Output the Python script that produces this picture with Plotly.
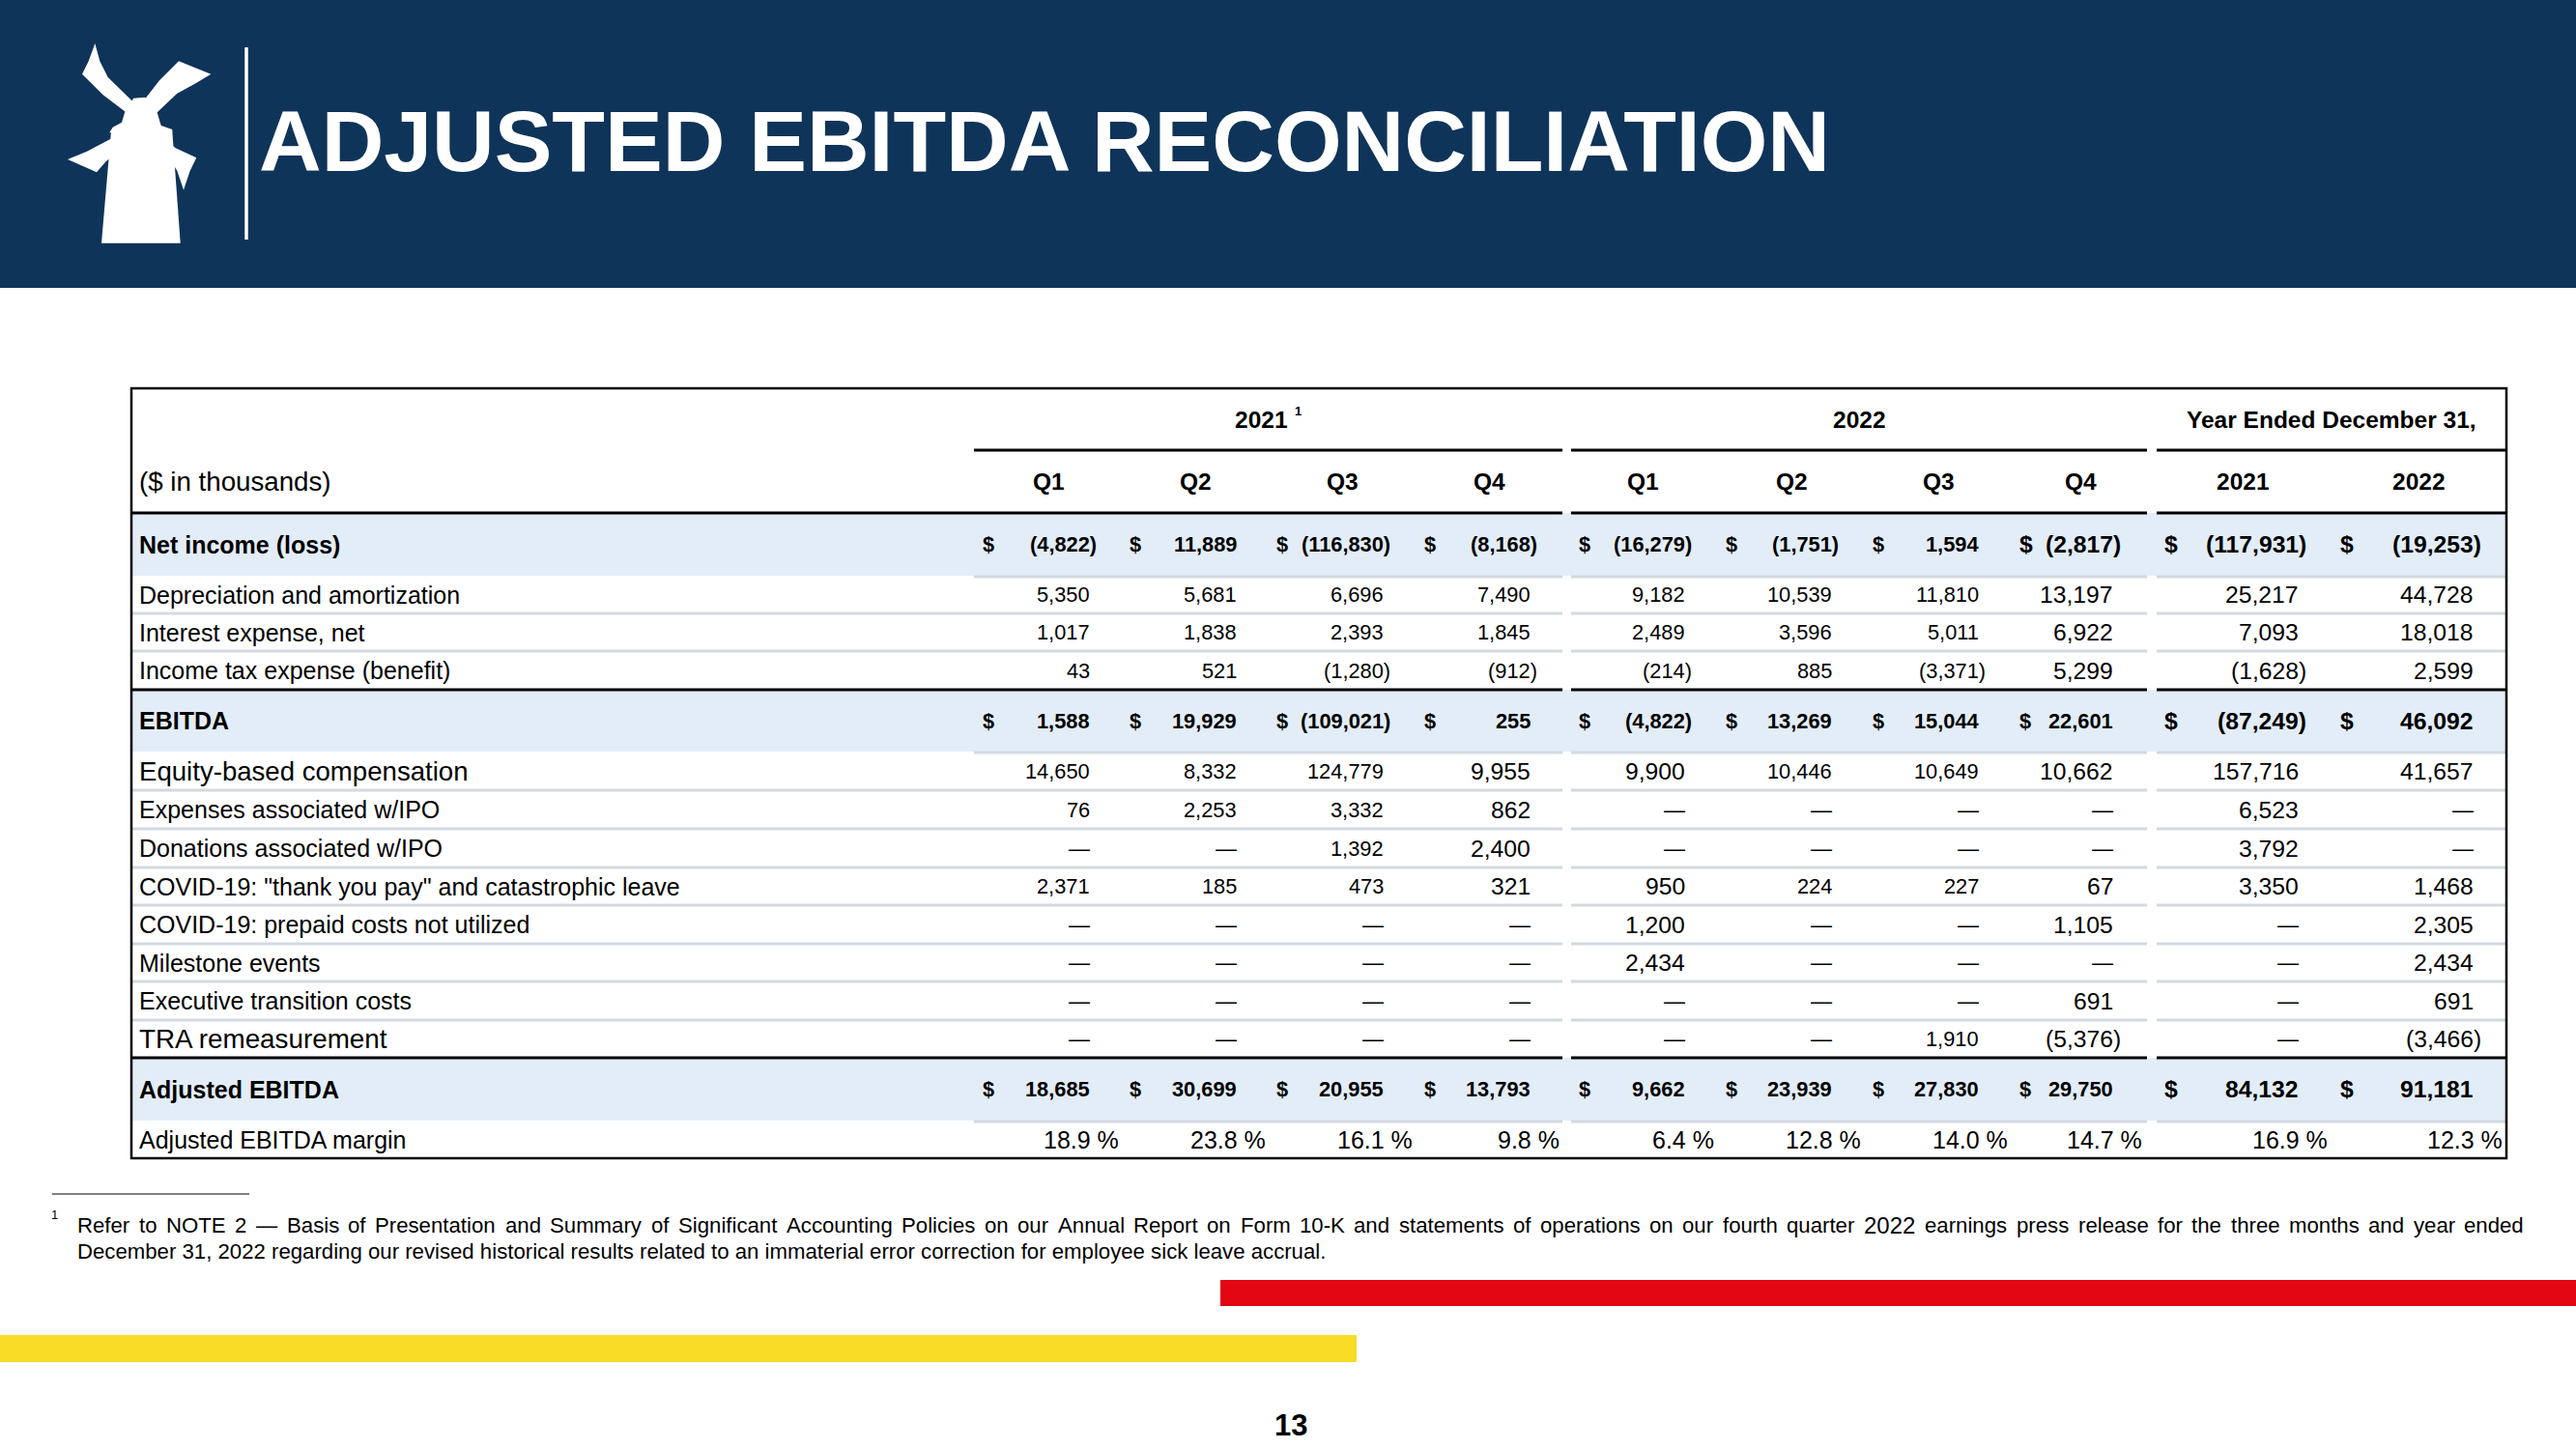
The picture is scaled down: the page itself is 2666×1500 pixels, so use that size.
import plotly.graph_objects as go

# ------------------------------------------------------------------ data
title_text = "ADJUSTED EBITDA RECONCILIATION"
unit_label = "($ in thousands)"
group_labels = ["2021", "2022", "Year Ended December 31,"]
column_labels = ["Q1", "Q2", "Q3", "Q4", "Q1", "Q2", "Q3", "Q4", "2021", "2022"]

row_labels = [
    "Net income (loss)",
    "Depreciation and amortization",
    "Interest expense, net",
    "Income tax expense (benefit)",
    "EBITDA",
    "Equity-based compensation",
    "Expenses associated w/IPO",
    "Donations associated w/IPO",
    'COVID-19: "thank you pay" and catastrophic leave',
    "COVID-19: prepaid costs not utilized",
    "Milestone events",
    "Executive transition costs",
    "TRA remeasurement",
    "Adjusted EBITDA",
    "Adjusted EBITDA margin",
]

net_income = [-4822, 11889, -116830, -8168, -16279, -1751, 1594, -2817, -117931, -19253]
depreciation = [5350, 5681, 6696, 7490, 9182, 10539, 11810, 13197, 25217, 44728]
interest_expense = [1017, 1838, 2393, 1845, 2489, 3596, 5011, 6922, 7093, 18018]
income_tax = [43, 521, -1280, -912, -214, 885, -3371, 5299, -1628, 2599]
ebitda = [1588, 19929, -109021, 255, -4822, 13269, 15044, 22601, -87249, 46092]
equity_comp = [14650, 8332, 124779, 9955, 9900, 10446, 10649, 10662, 157716, 41657]
ipo_expenses = [76, 2253, 3332, 862, None, None, None, None, 6523, None]
ipo_donations = [None, None, 1392, 2400, None, None, None, None, 3792, None]
covid_thank_you = [2371, 185, 473, 321, 950, 224, 227, 67, 3350, 1468]
covid_prepaid = [None, None, None, None, 1200, None, None, 1105, None, 2305]
milestone_events = [None, None, None, None, 2434, None, None, None, None, 2434]
executive_transition = [None, None, None, None, None, None, None, 691, None, 691]
tra_remeasurement = [None, None, None, None, None, None, 1910, -5376, None, -3466]
adjusted_ebitda = [18685, 30699, 20955, 13793, 9662, 23939, 27830, 29750, 84132, 91181]
adjusted_margin = [18.9, 23.8, 16.1, 9.8, 6.4, 12.8, 14.0, 14.7, 16.9, 12.3]

footnote_line1 = ("Refer to NOTE 2 \u2014 Basis of Presentation and Summary of Significant Accounting "
                  "Policies on our Annual Report on Form 10-K and statements of operations on our fourth "
                  "quarter 2022 earnings press release for the three months and year ended")
footnote_line2 = ("December 31, 2022 regarding our revised historical results related to an immaterial "
                  "error correction for employee sick leave accrual.")
page_number = "13"

rows = [net_income, depreciation, interest_expense, income_tax, ebitda, equity_comp,
        ipo_expenses, ipo_donations, covid_thank_you, covid_prepaid, milestone_events,
        executive_transition, tra_remeasurement, adjusted_ebitda]

# ------------------------------------------------------------------ layout / style
W, H = 2666, 1500
NAVY = "#0f3459"
LIGHT = "#e3edf8"
SEP = "#d3d9df"
FONT = "Liberation Sans, Arial, sans-serif"

row_bounds = [531, 596, 635, 674, 714, 778, 818, 858, 898, 937, 977, 1016, 1056, 1095, 1160, 1199]
bold_rows = {0, 4, 13}
digit_right = [1128, 1280, 1432, 1584, 1744, 1896, 2048, 2187, 2379, 2560]
dollar_left = [1017, 1169, 1321, 1474, 1634, 1786, 1938, 2090, 2240, 2422]
head_center = [1085, 1237, 1389, 1541, 1700, 1854, 2006, 2153, 2321, 2503]
size_codes = [
    "SSSSSSSLLL", "SSSSSSSLLL", "SSSSSSSLLL", "SSSSSSSLLL", "SSSSSSSSLL",
    "SSSLLSSLLL", "SSSLLLLLLL", "SSSLLLLLLL", "SSSLLSSLLL", "LLLLLLLLLL",
    "LLLLLLLLLL", "LLLLLLLLLL", "LLLLLLSLLL", "SSSSSSSSLL",
]
SZ = {"S": 21.8, "L": 24.7}
label_size = {5: 27.6, 12: 27.8}
group_segments = [(1008, 1617), (1626, 2222), (2232, 2594)]
full_segments = [(136, 1617), (1626, 2222), (2232, 2594)]

AW = {' ': 278, '!': 278, '"': 355, '$': 556, '%': 889, '(': 333, ')': 333, ',': 278, '-': 333,
      '.': 278, '/': 278, ':': 278, '\u2014': 1000,
      'A': 667, 'B': 667, 'C': 722, 'D': 722, 'E': 667, 'F': 611, 'G': 778, 'H': 722, 'I': 278,
      'J': 500, 'K': 667, 'L': 556, 'M': 833, 'N': 722, 'O': 778, 'P': 667, 'Q': 778, 'R': 722,
      'S': 667, 'T': 611, 'U': 722, 'V': 667, 'W': 944, 'X': 667, 'Y': 667, 'Z': 611,
      'a': 556, 'b': 556, 'c': 500, 'd': 556, 'e': 556, 'f': 278, 'g': 556, 'h': 556, 'i': 222,
      'j': 222, 'k': 500, 'l': 222, 'm': 833, 'n': 556, 'o': 556, 'p': 556, 'q': 556, 'r': 333,
      's': 500, 't': 278, 'u': 556, 'v': 500, 'w': 722, 'x': 500, 'y': 500, 'z': 500}


def text_w(s, size):
    return sum(AW.get(c, 556) for c in s) / 1000.0 * size


shapes = []
annotations = []


def rect(x0, y0, x1, y1, color, line_color=None, lw=0, layer="below"):
    shapes.append(dict(type="rect", xref="x", yref="y", x0=x0, y0=y0, x1=x1, y1=y1,
                       fillcolor=color, line=dict(width=lw, color=line_color or color), layer=layer))


def hline(x0, x1, y, color, width):
    shapes.append(dict(type="line", xref="x", yref="y", x0=x0, x1=x1, y0=y, y1=y,
                       line=dict(color=color, width=width), layer="above"))


def text(x, y, s, size, color="black", bold=False, xanchor="left", yanchor="middle"):
    if bold:
        s = "<b>" + s + "</b>"
    annotations.append(dict(x=x, y=y, xref="x", yref="y", text=s, showarrow=False,
                            xanchor=xanchor, yanchor=yanchor, borderpad=0, borderwidth=0,
                            font=dict(family=FONT, size=size, color=color)))


# header band
rect(0, 0, W, 298, NAVY)
shapes.append(dict(type="line", xref="x", yref="y", x0=255, x1=255, y0=49, y1=248,
                   line=dict(color="white", width=3.5), layer="above"))

# windmill logo (zoom-derived outline, scaled to page)
def lp(pts):
    return "M " + " L ".join(f"{50 + px / 3:.1f},{30 + py / 3:.1f}" for px, py in pts) + " Z"

logo_parts = [
    [(145, 45), (160, 100), (185, 150), (265, 228), (245, 262), (170, 205), (105, 140), (125, 100)],
    [(405, 100), (505, 140), (455, 170), (400, 200), (335, 262), (292, 228), (345, 160)],
    [(265, 215), (300, 212), (335, 250), (350, 300), (385, 312), (385, 322), (190, 322),
     (200, 305), (228, 290), (240, 250)],
    [(195, 318), (385, 318), (410, 665), (165, 665)],
    [(215, 330), (240, 365), (180, 410), (150, 445), (60, 405), (120, 380)],
    [(345, 330), (395, 370), (460, 400), (440, 440), (420, 500), (400, 440), (365, 385)],
]
for part in logo_parts:
    shapes.append(dict(type="path", xref="x", yref="y", path=lp(part), fillcolor="white",
                       line=dict(width=0), layer="above"))

text(268, 146, title_text, 89.5, color="white", bold=True)

# table backgrounds
for r in bold_rows:
    rect(137, row_bounds[r], 2593, row_bounds[r + 1], LIGHT)

# light separators
for r in range(len(row_labels) - 1):
    yb = row_bounds[r + 1]
    if r in bold_rows or (r + 1) in bold_rows:
        if r in bold_rows:
            for a, b in group_segments:
                hline(a, b, yb + 1, SEP, 3)
        continue
    for a, b in full_segments:
        hline(a, b, yb, SEP, 3)

# thick rules
for a, b in group_segments:
    hline(a, b, 466, "black", 3)
for y in (531, 714, 1095):
    for a, b in full_segments:
        hline(a, b, y, "black", 3)
# outer border
shapes.append(dict(type="rect", xref="x", yref="y", x0=136, y0=402, x1=2594, y1=1199,
                   line=dict(color="black", width=2.5), fillcolor="rgba(0,0,0,0)", layer="above"))

# headers
text(1305, 434, group_labels[0], 24.5, bold=True, xanchor="center")
text(1340, 425, "1", 13, bold=True)
text(1924, 434, group_labels[1], 24.5, bold=True, xanchor="center")
text(2413, 434, group_labels[2], 24.5, bold=True, xanchor="center")
text(144, 498, unit_label, 27.7)
for c, lab in enumerate(column_labels):
    text(head_center[c], 498, lab, 24.5, bold=True, xanchor="center")

# row labels
for r, lab in enumerate(row_labels):
    yc = (row_bounds[r] + row_bounds[r + 1]) / 2
    if r in bold_rows:
        text(144, yc, lab, 25, bold=True)
    else:
        text(144, yc, lab, label_size.get(r, 25))


def fmt(v):
    s = f"{abs(v):,}"
    return f"({s})" if v < 0 else s


# values
for r, vals in enumerate(rows):
    yc = (row_bounds[r] + row_bounds[r + 1]) / 2
    bold = r in bold_rows
    for c, v in enumerate(vals):
        sz = SZ[size_codes[r][c]]
        if v is None:
            text(digit_right[c], yc, "\u2014", 22, xanchor="right")
            continue
        xr = digit_right[c] + (0.333 * sz if v < 0 else 0)
        text(xr, yc, fmt(v), sz, bold=bold, xanchor="right")
        if bold:
            text(dollar_left[c], yc, "$", sz, bold=True)

# margin row
yc = (row_bounds[14] + row_bounds[15]) / 2
for c, v in enumerate(adjusted_margin):
    text(digit_right[c] + 29.5, yc, f"{v:.1f} %", 25, xanchor="right")

# footnote
hline(54, 258, 1236, "black", 1.2)
text(53, 1257, "1", 13)
fn_size = 22.2
words = footnote_line1.split(" ")
sizes = [24 if w == "2022" else fn_size for w in words]
widths = [text_w(w, s) for w, s in zip(words, sizes)]
gap = (2612 - 80 - sum(widths)) / (len(words) - 1)
x = 80.0
for w, s, wd in zip(words, sizes, widths):
    text(x, 1268, w, s)
    x += wd + gap
text(80, 1295, footnote_line2, fn_size)

# accent bars
rect(1263, 1325, W, 1352, "#e30613")
rect(0, 1382, 1404, 1410, "#f8dc25")

text(1336, 1475, page_number, 31, bold=True, xanchor="center")

fig = go.Figure()
fig.add_trace(go.Scatter(x=[0, W], y=[0, H], mode="markers", marker=dict(opacity=0),
                         hoverinfo="skip", showlegend=False))
fig.update_layout(
    width=W, height=H, margin=dict(l=0, r=0, t=0, b=0),
    paper_bgcolor="white", plot_bgcolor="white",
    xaxis=dict(range=[0, W], visible=False, fixedrange=True),
    yaxis=dict(range=[H, 0], visible=False, fixedrange=True),
    shapes=shapes, annotations=annotations, showlegend=False,
)
fig.write_html("out.html", config={"displayModeBar": False},
               post_script="document.body.style.margin='0';document.body.style.overflow='hidden';")
